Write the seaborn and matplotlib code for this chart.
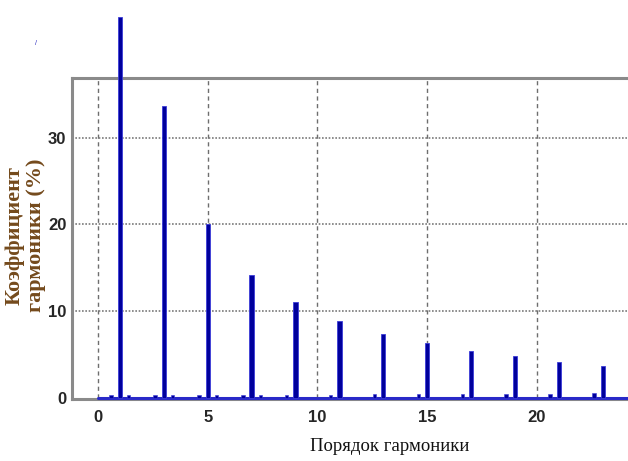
import matplotlib
matplotlib.use("Agg")
import matplotlib.pyplot as plt
import numpy as np
import pandas as pd
import seaborn as sns

# Harmonic spectrum: odd harmonic orders and their coefficients (%)
orders = [1, 3, 5, 7, 9, 11, 13, 15, 17, 19, 21, 23]
coeffs = [43.9, 33.7, 20.0, 14.2, 11.0, 8.8, 7.4, 6.3, 5.4, 4.8, 4.1, 3.65]

# Small side components next to the main harmonics
side_orders = [0.6, 1.4, 2.6, 3.4, 4.6, 5.4, 6.6, 7.4, 8.6,
               10.6, 12.6, 14.6, 16.6, 18.6, 20.6, 22.6]
side_coeffs = [0.3, 0.3, 0.3, 0.3, 0.3, 0.3, 0.3, 0.3, 0.3,
               0.3, 0.4, 0.4, 0.4, 0.4, 0.4, 0.5]

xticks = [0, 5, 10, 15, 20]
yticks = [0, 10, 20, 30]

sns.set_style("white")
plt.rcParams["font.family"] = ["Liberation Sans", "DejaVu Sans"]

fig = plt.figure(figsize=(6.28, 4.61), dpi=100)
ax = fig.add_axes([0.1146, 0.1345, 0.8854, 0.6963])

bar_color = "#00009c"
df_main = pd.DataFrame({"order": orders, "coeff": coeffs})
df_side = pd.DataFrame({"order": side_orders, "coeff": side_coeffs})

# zero level of the spectrum
ax.plot([0, 24.3], [0, 0], color="#2a2ac8", lw=2.2, zorder=3, clip_on=False)

sns.barplot(data=df_main, x="order", y="coeff", native_scale=True,
            width=0.1, color=bar_color, saturation=1, ax=ax,
            edgecolor="#3c3cd8", linewidth=0.6, clip_on=False, zorder=4)
sns.barplot(data=df_side, x="order", y="coeff", native_scale=True,
            width=0.2, color=bar_color, saturation=1, ax=ax,
            edgecolor="#3c3cd8", linewidth=0.4, zorder=4)

ax.set_xlim(-1.185, 24.15)
ax.set_ylim(-0.15, 36.9)
ax.set_xticks(xticks)
ax.set_yticks(yticks)
ax.set_xticklabels([str(t) for t in xticks], fontsize=12, fontweight="bold")
ax.set_yticklabels([str(t) for t in yticks], fontsize=12, fontweight="bold")
ax.tick_params(axis="both", direction="in", length=3, width=1,
               color="#808080", pad=4)
ax.tick_params(axis="x", pad=8)

# grid: dashed verticals, dotted horizontals
for xv in xticks:
    ax.plot([xv, xv], [0, 36.9], color="#6e6e6e", lw=1.0,
            ls=(0, (3, 2.5)), zorder=1)
for yv in yticks[1:]:
    ax.plot([-1.185, 24.15], [yv, yv], color="#7a7a7a", lw=1.2,
            ls=(0, (1, 1)), zorder=1)

for side in ["left", "top", "bottom"]:
    ax.spines[side].set_color("#8a8a8a")
    ax.spines[side].set_linewidth(2.2)
ax.spines["right"].set_visible(False)

ax.set_xlabel("")
ax.set_ylabel("")

fig.text(0.62, 0.032, "Порядок гармоники", family=["Liberation Serif", "DejaVu Serif"],
         fontsize=13.5, ha="center", va="center", color="#111111")
fig.text(0.024, 0.49, "Коэффициент", family=["Liberation Serif", "DejaVu Serif"],
         fontsize=16, fontweight="bold", rotation=90, ha="center", va="center",
         color="#744a1c")
fig.text(0.058, 0.49, "гармоники (%)", family=["Liberation Serif", "DejaVu Serif"],
         fontsize=16, fontweight="bold", rotation=90, ha="center", va="center",
         color="#744a1c")
fig.text(0.058, 0.905, "/", fontsize=5, color="#3030c0", ha="center", va="center")

fig.savefig("out.png", dpi=100)
